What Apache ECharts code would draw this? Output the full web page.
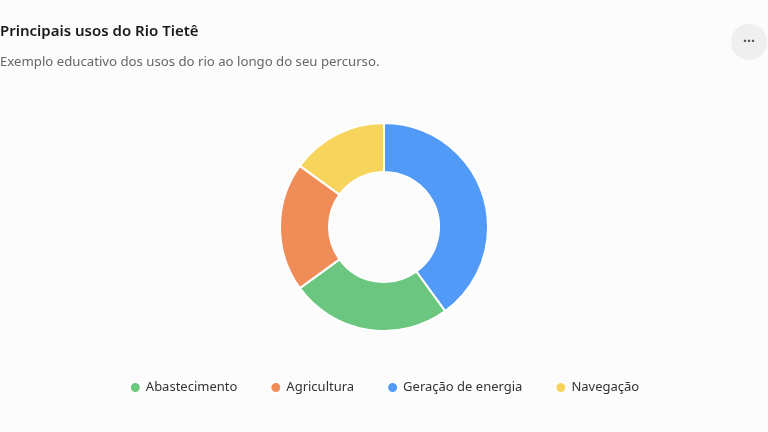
<!DOCTYPE html>
<html><head><meta charset="utf-8">
<script src="https://cdn.jsdelivr.net/npm/echarts@6/dist/echarts.min.js"></script>
<style>html,body{margin:0;padding:0;background:#fcfcfc}#c{width:768px;height:432px}</style>
</head><body><div id="c"></div>
<script>
var categories = ['Geração de energia', 'Abastecimento', 'Agricultura', 'Navegação'];
var values = [40, 25, 20, 15];
var legendOrder = ['Abastecimento', 'Agricultura', 'Geração de energia', 'Navegação'];
var colors = {'Geração de energia':'#529af7','Abastecimento':'#6bc77f','Agricultura':'#f08c58','Navegação':'#f7d55c'};
var font = '"Noto Sans", "Open Sans", sans-serif';
var chart = echarts.init(document.getElementById('c'));
chart.setOption({
  backgroundColor:'#fcfcfc',
  title:{text:'Principais usos do Rio Tietê', subtext:'Exemplo educativo dos usos do rio ao longo do seu percurso.',
    left:0, top:24, padding:[0,0,0,0], itemGap:17,
    textStyle:{fontFamily:font,fontSize:15,fontWeight:600,color:'#1a1a1a'},
    subtextStyle:{fontFamily:font,fontSize:13.2,color:'#666'}},
  legend:{data:legendOrder, bottom:33, left:'center', icon:'circle', itemWidth:11, itemHeight:11, itemGap:32,
    textStyle:{fontFamily:font,fontSize:13,color:'#333'}},
  graphic:[
    {type:'circle', shape:{cx:749, cy:42, r:18}, style:{fill:'#efefef'}},
    {type:'text', x:749, y:42, style:{text:'···', font:'bold 14px '+font, fill:'#555', align:'center', verticalAlign:'middle'}}
  ],
  series:[{type:'pie', radius:[55,104], center:[384,227], startAngle:90, clockwise:true,
    label:{show:false}, labelLine:{show:false},
    itemStyle:{borderColor:'#fff', borderWidth:2},
    emphasis:{disabled:true},
    data:categories.map(function(c,i){return {name:c, value:values[i], itemStyle:{color:colors[c]}};})
  }]
});
</script></body></html>
